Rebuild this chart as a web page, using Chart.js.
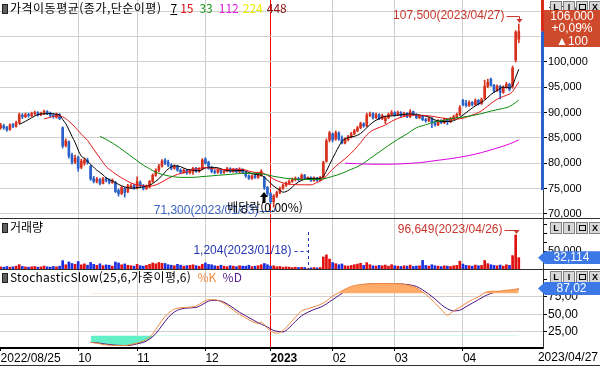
<!DOCTYPE html>
<html lang="ko">
<head>
<meta charset="utf-8">
<title>가격이동평균 / 거래량 / StochasticSlow</title>
<script src="https://cdn.jsdelivr.net/npm/chart.js@4.4.1/dist/chart.umd.min.js"></script>
<style>
  html, body { margin: 0; padding: 0; background: #fff; }
  #wrap { position: relative; width: 600px; height: 366px; overflow: hidden; background: #fff; }
  #wrap canvas { position: absolute; left: 0; }
  .ttl { position: absolute; left: 2px; height: 14px; font: 12px "Noto Sans CJK KR", sans-serif; line-height: 14px; white-space: nowrap; color: #000; }
  .ico { display: inline-block; width: 4px; height: 8px; background: #606060; border: 1px solid #202020; margin-right: 2px; vertical-align: -1px; }
  .btns { position: absolute; left: 550px; display: flex; gap: 1px; }
  .btns span { display: block; width: 10px; height: 10px; border: 1px solid #808080; background: #d8d8d8; font: bold 9px "Liberation Sans", sans-serif; line-height: 10px; text-align: center; color: #000; }
  .btns i { display: inline-block; width: 5px; height: 4px; border: 1px solid #000; margin-top: 2px; }
  .line { position: absolute; left: 0; width: 600px; height: 1px; background: #303030; }
  .tag { position: absolute; left: 538px; width: 62px; height: 13px; color: #fff; background: #3c78e6; font: 12px "Liberation Sans", sans-serif; line-height: 13px; text-align: center; padding-left: 5px; box-sizing: border-box; clip-path: polygon(7px 0, 100% 0, 100% 100%, 7px 100%, 0 50%); }
  #ptag { position: absolute; left: 544px; top: 10px; width: 56px; height: 37px; background: #cf4a2c; color: #fff; font: 12px "Liberation Sans", sans-serif; line-height: 12.3px; text-align: center; }
  #lastDate { position: absolute; right: 2px; top: 350px; font: 12px "Liberation Sans", sans-serif; color: #000; }
</style>
</head>
<body>
<div id="wrap">
  <canvas id="cPrice" width="600" height="218" style="top:0;width:600px;height:218px"></canvas>
  <canvas id="cVol" width="600" height="50" style="top:219px;width:600px;height:50px"></canvas>
  <canvas id="cSto" width="600" height="96" style="top:270px;width:600px;height:96px"></canvas>
  <div class="line" style="top:218px"></div>
  <div class="line" style="top:269px"></div>
  <div class="line" style="top:365px"></div>

  <div class="ttl" style="top:1px"><span class="ico"></span><span style="letter-spacing:0.5px">가격이동평균(종가,단순이평)</span><u style="margin-left:9px">7</u><span style="margin-left:3px;color:#e01010">15</span><span style="margin-left:6px;color:#1a9a1a">33</span><span style="margin-left:6px;color:#e020e0">112</span><span style="margin-left:4px;color:#eeee00">224</span><span style="margin-left:4px;color:#8a1010">448</span></div>
  <div class="ttl" style="top:220px"><span class="ico"></span>거래량</div>
  <div class="ttl" style="top:270px"><span class="ico"></span><span style="letter-spacing:0.25px">StochasticSlow(25,6,가중이평,6)</span> <span style="margin-left:3px;color:#f08a40">%K</span> <span style="margin-left:3px;color:#5a2090">%D</span></div>

  <div class="btns" style="top:1px"><span>L</span><span>I</span><span><i></i></span><span>X</span></div>
  <div class="btns" style="top:222px"><span>L</span><span>I</span><span><i></i></span><span>X</span></div>
  <div class="btns" style="top:271px"><span>L</span><span>I</span><span><i></i></span><span>X</span></div>

  <div id="ptag"></div>
  <div class="tag" id="vtag"></div>
  <div class="tag" id="stag"></div>
  <div id="lastDate"></div>
</div>
<script>
// ---- data ----
const opens = [
  87000, 87400, 87100, 86700, 87600, 87300, 88000, 89500, 89200, 89600,
  89400, 89800, 90000, 89600, 89900, 90200, 89900, 89400, 89100, 89600,
  87000, 83500, 84200, 81600, 80200, 81200, 79200, 80000, 80600, 79400,
  77000, 76400, 76800, 76000, 76900, 76600, 76200, 76200, 74600, 74000,
  75000, 74400, 75300, 75600, 75100, 76200, 75600, 75000, 75300, 76400,
  77600, 78600, 79400, 80600, 80200, 79600, 79000, 79400, 78600, 78200,
  78600, 78100, 78300, 79000, 78400, 78900, 80800, 80200, 79200, 78400,
  78200, 78600, 78200, 78500, 78900, 78400, 78800, 78300, 78800, 78200,
  77500, 77000, 77500, 77200, 77600, 77200, 75200, 74000, 72400, 73500,
  74200, 75000, 75600, 76000, 76400, 76800, 77000, 76800, 77600, 77000,
  77100, 76600, 77000, 76600, 77200, 80400, 84600, 85800, 84800, 86000,
  84800, 84000, 84600, 85200, 85800, 86400, 87000, 87800, 87400, 89500,
  89800, 89000, 89600, 88800, 88400, 89000, 89600, 90000, 89600, 90000,
  89400, 89800, 89200, 90200, 89600, 89000, 89400, 88600, 88400, 88800,
  88000, 87600, 88400, 88000, 88600, 88200, 88800, 89200, 89600, 92400,
  91800, 91400, 92000, 91600, 92400, 91800, 92800, 95200, 96600, 95400,
  94400, 95200, 94000, 95000, 95600, 95200, 100400, 104500
];
const closes = [
  87500, 87000, 86600, 87600, 87300, 88000, 89600, 89200, 89600, 89400,
  89800, 90000, 89600, 89800, 90200, 89900, 89400, 89200, 89600, 88800,
  83400, 84400, 81400, 80200, 81000, 79000, 80400, 80600, 80200, 76900,
  76400, 76800, 76000, 76900, 76600, 76200, 76600, 74400, 74000, 75200,
  74200, 75500, 75600, 75000, 76400, 75600, 75000, 75400, 76400, 77600,
  78600, 79400, 80400, 80000, 79600, 79000, 79400, 78600, 78200, 78600,
  78100, 78500, 79000, 78400, 78800, 80600, 80000, 79000, 78400, 78200,
  78600, 78200, 78500, 78900, 78400, 78800, 78300, 78800, 78200, 77500,
  77000, 77500, 77200, 77600, 78400, 75200, 74000, 72400, 73500, 74200,
  75000, 75600, 76000, 76400, 76800, 77000, 76800, 77600, 77000, 77100,
  76600, 77000, 76600, 77200, 80200, 84400, 86000, 84600, 86000, 84800,
  84000, 84800, 85200, 85800, 86400, 87000, 87800, 87400, 89500, 89600,
  89000, 89600, 88800, 89400, 89000, 89600, 90000, 89600, 90000, 89400,
  89800, 89200, 90200, 89600, 89000, 89400, 88600, 88400, 88800, 88000,
  87600, 88400, 88000, 88600, 88200, 88800, 89200, 89600, 91000, 91600,
  91400, 92000, 91600, 92400, 91800, 92600, 95200, 96000, 95400, 94400,
  95200, 94000, 95000, 95600, 94600, 98800, 105900, 106000
];
const highs = [
  87900, 87700, 87300, 87800, 87900, 88300, 89900, 89800, 89900, 89900,
  90100, 90300, 90200, 90100, 90500, 90400, 90100, 89800, 89900, 89800,
  87200, 84800, 84400, 82000, 81600, 81400, 80800, 81000, 81000, 79600,
  77400, 77200, 77000, 77200, 77200, 76900, 76900, 76400, 74900, 75400,
  75200, 75800, 75900, 75800, 77300, 76500, 75800, 75700, 76600, 77900,
  78900, 79800, 80700, 80900, 80600, 79900, 79700, 79600, 78900, 78900,
  78800, 78800, 79200, 79200, 79100, 80900, 81100, 80400, 79400, 78700,
  78900, 78800, 78800, 79200, 79100, 79000, 79000, 79100, 78900, 78300,
  77700, 77700, 77800, 77900, 78700, 77400, 75400, 74200, 73800, 74500,
  75300, 75900, 76300, 76700, 77100, 77300, 77200, 77900, 77800, 77300,
  77300, 77300, 77200, 77400, 80400, 84800, 86300, 86000, 86400, 86200,
  85400, 85000, 85500, 86100, 86700, 87300, 88100, 88000, 89900, 90100,
  90000, 89900, 89800, 89700, 89300, 89900, 90400, 90200, 90300, 90200,
  90100, 90000, 90600, 90300, 89800, 89600, 89500, 88900, 89100, 89000,
  88300, 88600, 88600, 88900, 88800, 89100, 89500, 89900, 91400, 92600,
  92400, 92300, 92200, 92700, 92600, 92900, 96400, 96600, 96800, 95600,
  95500, 95400, 95300, 96000, 95800, 99200, 106200, 107500
];
const lows = [
  86700, 86700, 86300, 86500, 87000, 87100, 87800, 88800, 89000, 89100,
  89200, 89500, 89300, 89400, 89600, 89600, 89100, 88900, 88900, 88600,
  83000, 83200, 81000, 79800, 79900, 78400, 78900, 79600, 79800, 76600,
  76100, 76100, 75700, 75900, 76300, 75900, 76000, 74200, 73500, 73800,
  73300, 74200, 75000, 74800, 74900, 75300, 74700, 74800, 75100, 76200,
  77400, 78300, 79200, 79700, 79300, 78700, 78800, 78400, 77900, 78000,
  77800, 77900, 77800, 78200, 78200, 78700, 79800, 78800, 78100, 77900,
  78000, 77900, 78000, 78300, 78200, 78200, 78100, 78100, 78000, 77200,
  76800, 76800, 77000, 77000, 77400, 74800, 73600, 72000, 71300, 73200,
  74000, 74800, 75400, 75800, 76200, 76500, 76500, 76600, 76800, 76900,
  76400, 76400, 76400, 76500, 77000, 80200, 84200, 84200, 84500, 84500,
  83800, 83800, 84400, 85000, 85600, 86200, 86800, 87100, 87200, 89200,
  88700, 88800, 88600, 88600, 87800, 88800, 89400, 89300, 89400, 89200,
  89200, 89000, 89000, 89400, 88800, 88800, 88400, 88100, 88200, 87000,
  87300, 87400, 87800, 87800, 87600, 88000, 88600, 89000, 89400, 91300,
  91100, 91200, 91300, 91400, 91500, 91600, 92600, 94900, 95200, 94000,
  94200, 92700, 93800, 94800, 94300, 94800, 100000, 103800
];
const volumes = [
  6000, 5200, 7100, 5400, 6300, 8200, 12400, 7300, 6100, 5200,
  6400, 7200, 5300, 6100, 8400, 6200, 5400, 7300, 6200, 8100,
  23800, 12000, 20000, 15700, 13400, 21100, 11800, 14600, 10800, 18600,
  13300, 10500, 14700, 9400, 11800, 10800, 8100, 19800, 17000, 12000,
  14400, 10700, 9500, 7900, 13300, 9500, 8100, 10500, 13400, 17200,
  14700, 18500, 16000, 15700, 12100, 10700, 9200, 13300, 10800, 8100,
  9500, 10500, 12000, 9500, 7900, 13300, 17300, 13100, 12000, 9200,
  8100, 10800, 7900, 6800, 9500, 8100, 6600, 9400, 8200, 7900,
  10700, 6900, 7900, 9400, 12100, 15700, 12100, 8200, 9100, 6300,
  7200, 5100, 6200, 5300, 4100, 5200, 4300, 5100, 4200, 1204,
  3100, 4200, 3300, 4100, 34200, 40100, 28300, 18200, 15300, 12100,
  14200, 9300, 8100, 10200, 12300, 14100, 16200, 10300, 18100, 12200,
  9100, 8300, 10200, 9300, 11200, 8100, 12300, 9200, 8100, 7300,
  9200, 8300, 11100, 7200, 8300, 9100, 24300, 10100, 8200, 12100,
  9300, 8200, 7100, 9200, 8300, 7200, 9100, 10300, 22200, 14100,
  10200, 9300, 8100, 11200, 9300, 10100, 24200, 15300, 12100, 10300,
  9200, 11300, 8200, 12100, 10300, 38100, 96649, 32114
];

// moving averages (bar index -> value)
const ma7Idx = [6,8,10,12,14,16,18,19,20,21,22,23,24,25,26,27,28,29,30,31,32,33,34,36,38,40,42,44,46,48,50,52,54,56,58,60,62,64,66,68,70,72,74,76,78,80,82,84,85,86,87,88,89,90,91,92,93,95,97,99,101,103,104,105,106,108,110,112,114,116,118,120,122,124,126,128,130,132,134,136,138,140,142,144,146,148,150,152,154,156,158,160,162,164,165,166,167];
const ma7Val = [87660,88270,88990,89600,89770,89810,89670,89560,88640,87810,86600,85290,84110,82600,81400,81000,80400,79760,79210,78610,78190,77690,77110,76500,75810,75310,75070,75130,75330,75630,76430,77540,78860,79490,79310,78790,78630,78510,79060,79170,79090,78700,78460,78530,78560,78140,77790,77630,77200,76700,76040,75470,75040,74670,74270,74390,74730,75860,76600,76960,77010,77010,77390,78440,79710,82140,84290,85060,85290,85860,87010,88100,88810,89270,89340,89490,89630,89740,89600,89400,89140,88540,88260,88230,88400,89060,89970,90910,91690,92430,93570,94370,95030,94890,95370,97000,98560];
const ma15Idx = [14,16,18,20,22,24,26,28,30,32,34,36,38,40,42,44,46,48,50,52,54,56,58,60,62,64,66,68,70,72,74,76,78,80,82,84,86,88,90,92,94,96,98,100,102,104,106,108,110,112,114,116,118,120,122,124,126,128,130,132,134,136,138,140,142,144,146,148,150,152,154,156,158,160,162,164,165,166,167];
const ma15Val = [88750,89070,89370,89170,88300,87110,85750,84510,82730,81010,79350,78350,77470,76760,76100,75720,75550,75470,75700,76290,76980,77560,77970,78290,78760,78970,79150,78950,78830,78740,78770,78810,78780,78450,78170,78130,77620,76850,76320,75950,75790,75740,75730,75730,76210,76860,78180,79390,80390,81430,82640,84050,85590,86530,87050,87550,88270,88850,89230,89510,89480,89440,89370,89170,88960,88790,88720,88770,89080,89520,90010,90800,91790,92630,93190,93670,94160,95090,96050];
const ma33Idx = [32,34,36,38,40,42,44,46,48,50,52,54,56,58,60,62,64,66,68,70,72,74,76,78,80,82,84,86,88,90,92,94,96,98,100,102,104,107,110,113,116,119,122,125,128,131,134,137,140,143,146,149,152,155,158,161,164,166,167];
const ma33Val = [85300,84700,84000,83200,82300,81400,80500,79600,78900,78200,77800,77500,77300,77200,77200,77200,77300,77400,77500,77600,77700,77800,77900,78000,78000,78000,77900,77700,77400,77200,77000,76900,76800,76800,76800,76800,76900,77400,78000,78800,79600,80900,82200,83500,84700,85800,87000,87600,88200,88500,88900,89100,89400,89800,90300,90700,91200,92000,92500];
const ma112Idx = [111,115,120,125,130,135,140,145,150,155,160,164,167];
const ma112Val = [80000,79900,79800,79800,79900,80100,80500,80900,81400,82100,83000,83800,84600];

// stochastic slow %K / %D
const stIdx = [29,31,33,35,37,40,42,44,46,47,49,51,53,55,57,60,63,65,67,69,71,73,75,77,79,81,83,84,86,88,89,91,93,95,97,99,101,103,105,107,109,111,113,115,118,121,125,129,132,134,136,138,140,142,144,146,148,150,152,154,156,158,160,162,164,166,167];
const stK = [10,9,7,6,5.5,5.5,7,9,12,14,22,35,47,55,59,60,62,67,71,71,68,63,56,50,45,40,37,39,30,24,23,27,36,46,55,58,61,64,69,76,81,86,90,92,93.5,94,94,93.5,91,88,82,75,66,57,49,55,60,66,71,75,81,83,83,84,85,86,87.02];
const stD = [10,9.5,8,7,6,5.5,6,8,10,12,18,28,40,50,56,59,60,64,69,70,69,65,59,53,48,43,38,36,32,27,26,25,31,40,48,53,57,60,65,71,77,83,88,91,93,94,94,93.5,92,90,85,79,72,64,58,55,56,61,66,71,76,80,82,83,84,85,86];

// axis ticks and labels
const monthIdx = [0, 25, 44, 66, 87, 107, 127, 149];
const monthLbl = ['2022/08/25', '10', '11', '12', '2023', '02', '03', '04'];
const yearIdx = 87;
const lastDate = '2023/04/27';
const priceTicks = [70000, 75000, 80000, 85000, 90000, 95000, 100000, 105000, 110000];
const volTicks = [25000, 50000, 75000, 100000, 125000];
const volLabeled = [50000];
const stTicks = [25, 50, 75, 100];
const dateOf = { 88: '2023/01/03', 99: '2023/01/18', 166: '2023/04/26', 167: '2023/04/27' };
const exDivIdx = 85;
const exDivText = '배당락(0.00%)';
const bandLow = 74700;

// ---- helpers ----
const UP = '#d7321e', DN = '#2a62c9';
const VUP = '#e01010', VDN = '#1a30e0';
const fmt = v => v.toLocaleString('en-US');
const isUp = i => closes[i] >= opens[i];
const pts = (idx, val) => idx.map((i, k) => ({ x: i, y: val[k] }));

function xAxis(withLabels) {
  return {
    type: 'linear', position: 'bottom', min: -0.2, max: 174.8, offset: false,
    afterBuildTicks: s => { s.ticks = monthIdx.map(v => ({ value: v })); },
    afterFit: s => { s.height = withLabels ? 18 : 0; s.paddingLeft = 0; s.paddingRight = 0; },
    grid: {
      offset: false,
      color: c => (!c.tick || c.tick.value === 0) ? 'rgba(0,0,0,0)' : (c.tick.value === yearIdx ? '#ff0000' : '#cdcdcd'),
      drawTicks: withLabels, tickLength: 3, tickColor: '#000'
    },
    border: withLabels ? { display: true, color: '#000', width: 2 } : { display: false },
    ticks: {
      display: withLabels, align: 'start', padding: 0, color: '#000', autoSkip: false, maxRotation: 0,
      font: c => ({ family: 'Liberation Sans', size: 12, weight: c.tick && c.tick.value === yearIdx ? 'bold' : 'normal' }),
      callback: v => monthLbl[monthIdx.indexOf(v)]
    }
  };
}
function yAxis(min, max, ticks, label, gridColor, size) {
  return {
    position: 'right', min, max,
    afterBuildTicks: s => { s.ticks = ticks.map(v => ({ value: v })); },
    afterFit: s => { s.width = 57; s.paddingTop = 0; s.paddingBottom = 0; },
    grid: { color: gridColor, tickLength: 4, tickColor: '#000' },
    border: { color: '#333' },
    ticks: { callback: label, padding: 1, color: '#000', autoSkip: false, font: { family: 'Liberation Sans', size } }
  };
}
const base = {
  responsive: false, animation: false, events: [], devicePixelRatio: 1,
  layout: { padding: 0 },
  plugins: { legend: { display: false }, tooltip: { enabled: false } }
};
function arrowDown(ctx, x, y) {
  ctx.beginPath(); ctx.moveTo(x - 3, y - 4); ctx.lineTo(x + 3, y - 4); ctx.lineTo(x, y); ctx.closePath(); ctx.fill();
}

// ---- price pane ----
const priceNotes = {
  id: 'priceNotes',
  afterDatasetsDraw(chart) {
    const { ctx, scales: { x, y } } = chart;
    const hi = highs.indexOf(Math.max(...highs));
    const lo = lows.indexOf(Math.min(...lows));
    ctx.save();
    ctx.lineWidth = 1;
    ctx.font = '12px "Liberation Sans"';
    ctx.textBaseline = 'middle';
    ctx.textAlign = 'right';
    // period high
    let px = Math.round(x.getPixelForValue(hi)) + 0.5, py = y.getPixelForValue(highs[hi]);
    ctx.fillStyle = ctx.strokeStyle = '#c8362c';
    ctx.fillText(fmt(highs[hi]) + '(' + dateOf[hi] + ')', px - 15, py - 8);
    ctx.beginPath(); ctx.moveTo(px - 13, py - 7.5); ctx.lineTo(px, py - 7.5); ctx.lineTo(px, py - 4); ctx.stroke();
    arrowDown(ctx, px, py - 1);
    // period low
    px = Math.round(x.getPixelForValue(lo)) + 0.5; py = y.getPixelForValue(lows[lo]);
    ctx.fillStyle = ctx.strokeStyle = '#3b63c4';
    ctx.fillText(fmt(lows[lo]) + '(' + dateOf[lo] + ')', px - 16, py + 3);
    ctx.beginPath(); ctx.moveTo(px - 15, Math.round(py + 4) + 0.5); ctx.lineTo(px, Math.round(py + 4) + 0.5); ctx.lineTo(px, py + 1); ctx.stroke();
    // ex-dividend marker
    const ex = Math.round(x.getPixelForValue(exDivIdx)), ty = Math.round(y.getPixelForValue(lows[exDivIdx])) + 2;
    ctx.fillStyle = '#000';
    ctx.beginPath();
    ctx.moveTo(ex, ty); ctx.lineTo(ex + 4, ty + 5); ctx.lineTo(ex + 1.5, ty + 5); ctx.lineTo(ex + 1.5, ty + 11);
    ctx.lineTo(ex - 1.5, ty + 11); ctx.lineTo(ex - 1.5, ty + 5); ctx.lineTo(ex - 4, ty + 5); ctx.closePath(); ctx.fill();
    ctx.font = '12px "Noto Sans CJK KR"';
    ctx.textAlign = 'center';
    ctx.fillText(exDivText, ex + 1, ty + 15);
    ctx.restore();
  },
  afterDraw(chart) {
    const { ctx, chartArea: a, scales: { y } } = chart;
    const yc = y.getPixelForValue(closes[closes.length - 1]);
    const yb = y.getPixelForValue(bandLow);
    ctx.fillStyle = '#d82c1c'; ctx.fillRect(a.right - 2, 0, 3, yc);
    ctx.fillStyle = '#2a62c9'; ctx.fillRect(a.right - 2, yc, 3, yb - yc);
  }
};

const lineDs = (data, color) => ({
  type: 'line', data, borderColor: color, borderWidth: 1, pointRadius: 0,
  cubicInterpolationMode: 'monotone', fill: false, order: 0
});

new Chart(document.getElementById('cPrice'), {
  type: 'bar',
  data: {
    datasets: [
      lineDs(pts(ma112Idx, ma112Val), '#e000e0'),
      lineDs(pts(ma33Idx, ma33Val), '#0a8a0a'),
      lineDs(pts(ma15Idx, ma15Val), '#e01818'),
      lineDs(pts(ma7Idx, ma7Val), '#000000'),
      {
        data: lows.map((l, i) => ({ x: i, y: [l, highs[i]] })),
        backgroundColor: c => isUp(c.dataIndex) ? UP : DN,
        barThickness: 1, grouped: false, order: 6
      },
      {
        data: opens.map((o, i) => ({ x: i, y: [o, closes[i]] })),
        backgroundColor: c => isUp(c.dataIndex) ? UP : DN,
        barThickness: 2, minBarLength: 1, grouped: false, order: 5
      }
    ]
  },
  options: {
    ...base,
    scales: {
      x: xAxis(false),
      y: yAxis(69170, 112250, priceTicks, v => fmt(v), '#d0d0d0', 11)
    }
  },
  plugins: [priceNotes]
});

// ---- volume pane ----
const volNotes = {
  id: 'volNotes',
  afterDatasetsDraw(chart) {
    const { ctx, scales: { x, y } } = chart;
    const hi = volumes.indexOf(Math.max(...volumes));
    const lo = volumes.indexOf(Math.min(...volumes));
    ctx.save();
    ctx.lineWidth = 1;
    ctx.font = '12px "Liberation Sans"';
    ctx.textBaseline = 'middle';
    ctx.textAlign = 'right';
    let px = Math.round(x.getPixelForValue(hi)) + 0.5, py = y.getPixelForValue(volumes[hi]);
    ctx.fillStyle = ctx.strokeStyle = '#c8362c';
    ctx.fillText(fmt(volumes[hi]) + '(' + dateOf[hi] + ')', px - 14, 11);
    ctx.beginPath(); ctx.moveTo(px - 12, 11.5); ctx.lineTo(px, 11.5); ctx.lineTo(px, py - 4); ctx.stroke();
    arrowDown(ctx, px, py - 1);
    px = Math.round(x.getPixelForValue(lo)) + 0.5;
    ctx.fillStyle = ctx.strokeStyle = '#2436b4';
    ctx.fillText(fmt(volumes[lo]) + '(' + dateOf[lo] + ')', px - 17, 32);
    ctx.setLineDash([3, 3]);
    ctx.beginPath(); ctx.moveTo(px - 14, 32.5); ctx.lineTo(px, 32.5); ctx.stroke();
    ctx.beginPath(); ctx.moveTo(px, 13); ctx.lineTo(px, y.getPixelForValue(0)); ctx.stroke();
    ctx.restore();
  }
};

const volChart = new Chart(document.getElementById('cVol'), {
  type: 'bar',
  data: {
    datasets: [{
      data: volumes.map((v, i) => ({ x: i, y: v })),
      backgroundColor: c => isUp(c.dataIndex) ? VUP : VDN,
      barThickness: 2, grouped: false
    }]
  },
  options: {
    ...base,
    scales: {
      x: xAxis(false),
      y: Object.assign(yAxis(0, 142000, volTicks, v => volLabeled.includes(v) ? fmt(v) : '', '#d0d0d0', 11),
        { grid: { drawOnChartArea: false, tickLength: 4, tickColor: '#000' } })
    }
  },
  plugins: [volNotes]
});

// ---- stochastic pane ----
const stoChart = new Chart(document.getElementById('cSto'), {
  type: 'line',
  data: {
    datasets: [
      {
        data: pts(stIdx, stK), borderColor: '#f08a40', borderWidth: 1, pointRadius: 0,
        cubicInterpolationMode: 'monotone',
        fill: { target: { value: 80 }, above: '#ffab6a', below: 'rgba(0,0,0,0)' }
      },
      {
        data: pts(stIdx, stD), borderColor: '#4a1080', borderWidth: 1, pointRadius: 0,
        cubicInterpolationMode: 'monotone',
        fill: { target: { value: 20 }, above: 'rgba(0,0,0,0)', below: '#62f0c8' }
      }
    ]
  },
  options: {
    ...base,
    scales: {
      x: xAxis(true),
      y: yAxis(2, 113.4, stTicks, v => v === 100 ? '' : v.toFixed(2).replace('.', ','),
        c => c.tick && c.tick.value === 100 ? 'rgba(0,0,0,0)' : '#d0d0d0', 12)
    }
  }
});

// ---- right-side value tags ----
const last = closes.length - 1;
const diff = closes[last] - closes[last - 1];
document.getElementById('ptag').innerHTML =
  fmt(closes[last]) + '<br>' + (diff >= 0 ? '+' : '') + (diff / closes[last - 1] * 100).toFixed(2).replace('.', ',') + '%<br>' +
  (diff >= 0 ? '▲' : '▼') + fmt(Math.abs(diff));
const vtag = document.getElementById('vtag');
vtag.textContent = fmt(volumes[last]);
vtag.style.top = (219 + volChart.scales.y.getPixelForValue(volumes[last]) - 6.5) + 'px';
const stag = document.getElementById('stag');
stag.textContent = stK[stK.length - 1].toFixed(2).replace('.', ',');
stag.style.top = (270 + stoChart.scales.y.getPixelForValue(stK[stK.length - 1]) - 6.5) + 'px';
document.getElementById('lastDate').textContent = lastDate;
</script>
</body>
</html>
